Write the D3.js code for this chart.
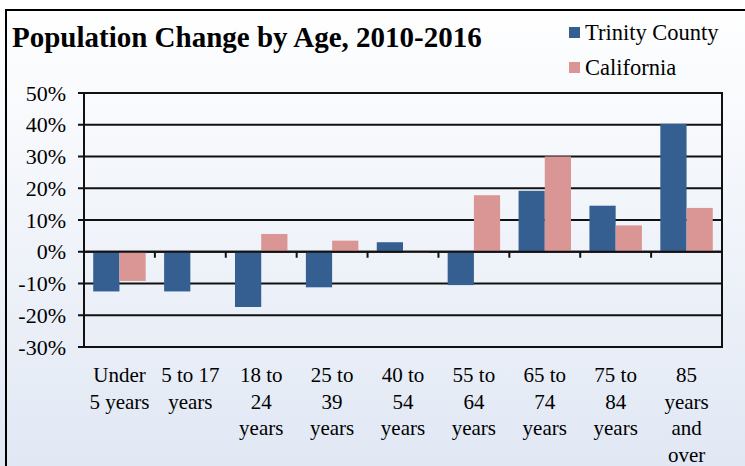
<!DOCTYPE html>
<html>
<head>
<meta charset="utf-8">
<script src="https://cdn.jsdelivr.net/npm/d3@7"></script>
<style>
  body { margin: 0; background: #fff; }
</style>
</head>
<body>
<div id="wrapper"></div>
<script>
const categories = [
    ["Under", "5 years"],
    ["5 to 17", "years"],
    ["18 to", "24", "years"],
    ["25 to", "39", "years"],
    ["40 to", "54", "years"],
    ["55 to", "64", "years"],
    ["65 to", "74", "years"],
    ["75 to", "84", "years"],
    ["85", "years", "and", "over"]
];
const seriesNames = ["Trinity County", "California"];
const trinity = [-12.5, -12.5, -17.4, -11.2, 3.0, -10.5, 19.2, 14.5, 40.3];
const california = [-9.2, 0.2, 5.6, 3.5, -0.2, 17.8, 30.0, 8.3, 13.8];
const yTicks = [-30, -20, -10, 0, 10, 20, 30, 40, 50];
const colors = ["#365f91", "#da9694"];

function build() {
    const dimension = {
        width: 745,
        height: 466,
        margin: { top: 93, right: 23, bottom: 119, left: 84 }
    };
    dimension.boundedWidth = dimension.width - dimension.margin.left - dimension.margin.right;
    dimension.boundedHeight = dimension.height - dimension.margin.top - dimension.margin.bottom;

    const wrapper = d3.select("#wrapper")
        .append("svg")
        .attr("width", dimension.width)
        .attr("height", dimension.height)
        .attr("font-family", "'Liberation Serif', 'Times New Roman', Times, serif");

    const defs = wrapper.append("defs");
    const grad = defs.append("linearGradient")
        .attr("id", "bg")
        .attr("x1", 0).attr("y1", 0).attr("x2", 0).attr("y2", 1);
    grad.append("stop").attr("offset", "0%").attr("stop-color", "#ffffff");
    grad.append("stop").attr("offset", "100%").attr("stop-color", "#e1e8f4");

    // background with outer frame (top + left edges visible)
    wrapper.append("rect")
        .attr("x", 0).attr("y", 0)
        .attr("width", dimension.width).attr("height", dimension.height)
        .attr("fill", "url(#bg)");
    wrapper.append("path")
        .attr("d", `M6,${dimension.height} V10 H${dimension.width}`)
        .attr("fill", "none")
        .attr("stroke", "#000")
        .attr("stroke-width", 2);

    const data = categories.map((c, i) => ({
        cat: i,
        values: [trinity[i], california[i]]
    }));

    const x = d3.scaleBand()
        .domain(d3.range(categories.length))
        .range([0, dimension.boundedWidth])
        .paddingInner(0.26)
        .paddingOuter(0.13);
    const xSub = d3.scaleBand()
        .domain(d3.range(seriesNames.length))
        .range([0, x.bandwidth()]);
    const y = d3.scaleLinear()
        .domain([-30, 50])
        .range([dimension.boundedHeight, 0]);

    const bounds = wrapper.append("g")
        .attr("transform", `translate(${dimension.margin.left},${dimension.margin.top})`);

    // gridlines
    bounds.append("g")
        .selectAll("line")
        .data(yTicks)
        .enter()
        .append("line")
        .attr("x1", -6)
        .attr("x2", dimension.boundedWidth)
        .attr("y1", d => y(d))
        .attr("y2", d => y(d))
        .attr("stroke", "#111")
        .attr("stroke-width", 2);

    // y tick labels
    bounds.append("g")
        .selectAll("text")
        .data(yTicks)
        .enter()
        .append("text")
        .attr("x", -18)
        .attr("y", d => y(d) + 7.5)
        .attr("text-anchor", "end")
        .style("font-size", "22px")
        .text(d => d + "%");

    // bars
    const groups = bounds.append("g")
        .selectAll("g")
        .data(data)
        .enter()
        .append("g")
        .attr("transform", d => `translate(${x(d.cat)},0)`);
    groups.selectAll("rect")
        .data(d => d.values)
        .enter()
        .append("rect")
        .attr("x", (d, i) => xSub(i))
        .attr("width", xSub.bandwidth())
        .attr("y", d => y(Math.max(0, d)))
        .attr("height", d => Math.max(1, Math.abs(y(d) - y(0))))
        .attr("fill", (d, i) => colors[i]);

    // zero line on top
    bounds.append("line")
        .attr("x1", 0)
        .attr("x2", dimension.boundedWidth)
        .attr("y1", y(0))
        .attr("y2", y(0))
        .attr("stroke", "#111")
        .attr("stroke-width", 2);

    // category tick marks at band boundaries
    const step = x.step();
    bounds.append("g")
        .selectAll("line")
        .data(d3.range(1, categories.length + 1))
        .enter()
        .append("line")
        .attr("x1", i => x(i - 1) + x.bandwidth() + step * x.paddingInner() / 2)
        .attr("x2", i => x(i - 1) + x.bandwidth() + step * x.paddingInner() / 2)
        .attr("y1", y(0))
        .attr("y2", y(0) + 6)
        .attr("stroke", "#111")
        .attr("stroke-width", 2);

    // plot frame
    bounds.append("rect")
        .attr("x", 0).attr("y", 0)
        .attr("width", dimension.boundedWidth)
        .attr("height", dimension.boundedHeight)
        .attr("fill", "none")
        .attr("stroke", "#111")
        .attr("stroke-width", 2);

    // category labels
    const catLabels = bounds.append("g")
        .selectAll("text")
        .data(categories)
        .enter()
        .append("text")
        .attr("text-anchor", "middle")
        .style("font-size", "21px")
        .attr("transform", (d, i) => `translate(${x(i) + x.bandwidth() / 2},${dimension.boundedHeight + 35})`);
    catLabels.selectAll("tspan")
        .data(d => d)
        .enter()
        .append("tspan")
        .attr("x", 0)
        .attr("y", (d, i) => i * 26.5)
        .text(d => d);

    // title
    wrapper.append("text")
        .attr("x", 12)
        .attr("y", 47)
        .style("font-size", "29px")
        .style("font-weight", "bold")
        .text("Population Change by Age, 2010-2016");

    // legend
    const legend = wrapper.append("g")
        .selectAll("g")
        .data(seriesNames)
        .enter()
        .append("g")
        .attr("transform", (d, i) => `translate(569,${27 + i * 35})`);
    legend.append("rect")
        .attr("width", 11)
        .attr("height", 11)
        .attr("fill", (d, i) => colors[i]);
    legend.append("text")
        .attr("x", 16)
        .attr("y", 12.5)
        .style("font-size", "22.5px")
        .text(d => d);
}

build();
</script>
</body>
</html>
